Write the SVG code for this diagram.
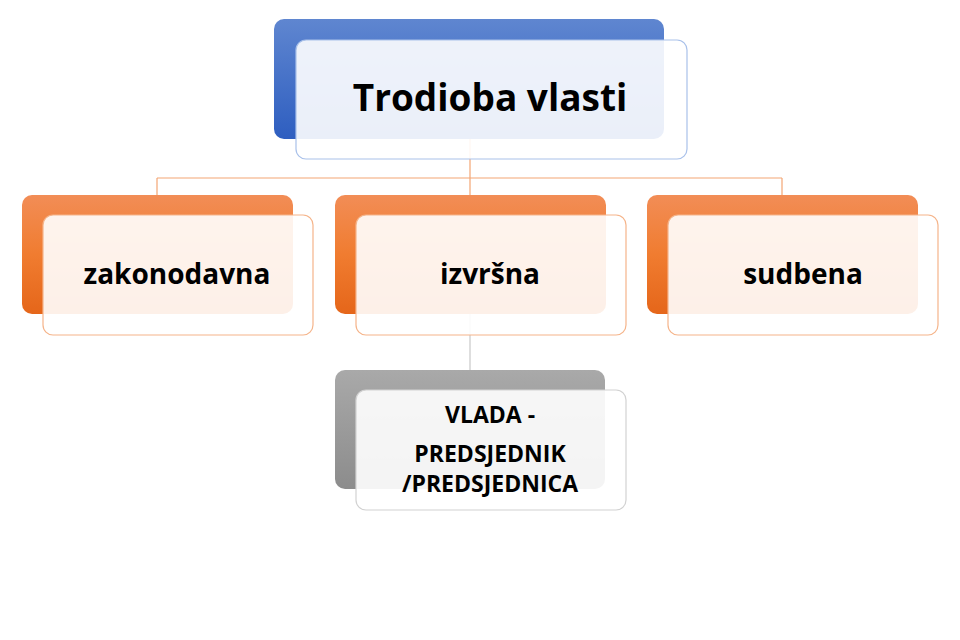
<svg xmlns="http://www.w3.org/2000/svg" width="960" height="640" viewBox="0 0 960 640">
<defs>
<linearGradient id="gBlue" x1="0" y1="0" x2="0" y2="1"><stop offset="0" stop-color="#5f86d0"/><stop offset="1" stop-color="#2e5ec0"/></linearGradient>
<linearGradient id="gOrange" x1="0" y1="0" x2="0" y2="1"><stop offset="0" stop-color="#f28d56"/><stop offset="0.5" stop-color="#f07c30"/><stop offset="1" stop-color="#e5661a"/></linearGradient>
<linearGradient id="gGray" x1="0" y1="0" x2="0" y2="1"><stop offset="0" stop-color="#a9a9a9"/><stop offset="1" stop-color="#8c8c8c"/></linearGradient>
</defs>
<style>
.front{fill:#ffffff;fill-opacity:0.9;stroke-width:1.2}
.fb{stroke:#a9c1ea}
.fo{stroke:#f5b48a}
.fg{stroke:#d2d2d2}
.t{font-family:"Open Sans","Noto Sans","DejaVu Sans",sans-serif;font-weight:bold;fill:#000;text-anchor:middle}
.conn{fill:none;stroke-width:1.2}
</style>
<rect width="960" height="640" fill="#ffffff"/>
<g id="connectors">
<path class="conn" stroke="#f4a674" d="M470 100 V178 M157 178 H782 M157 178 V300 M470 178 V300 M782 178 V300"/>
<path class="conn" stroke="#c8c8c8" d="M470 300 V420"/>
</g>
<g id="node-root">
<rect x="274" y="19" width="390" height="120" rx="10" fill="url(#gBlue)"/>
<rect class="front fb" x="296" y="40" width="391" height="119" rx="10"/>
<text class="t" x="490" y="111" font-size="37">Trodioba vlasti</text>
</g>
<g id="node-zakonodavna">
<rect x="22" y="195" width="271" height="119" rx="10" fill="url(#gOrange)"/>
<rect class="front fo" x="43" y="215" width="270" height="120" rx="10"/>
<text class="t" x="177" y="284" font-size="28">zakonodavna</text>
</g>
<g id="node-izvrsna">
<rect x="335" y="195" width="271" height="119" rx="10" fill="url(#gOrange)"/>
<rect class="front fo" x="356" y="215" width="270" height="120" rx="10"/>
<text class="t" x="490" y="284" font-size="28">izvršna</text>
</g>
<g id="node-sudbena">
<rect x="647" y="195" width="271" height="119" rx="10" fill="url(#gOrange)"/>
<rect class="front fo" x="668" y="215" width="270" height="120" rx="10"/>
<text class="t" x="803" y="284" font-size="28">sudbena</text>
</g>
<g id="node-vlada">
<rect x="335" y="370" width="270" height="119" rx="10" fill="url(#gGray)"/>
<rect class="front fg" x="356" y="390" width="270" height="120" rx="10"/>
<text class="t" x="490" y="423" font-size="23">VLADA -</text>
<text class="t" x="490" y="462" font-size="23">PREDSJEDNIK</text>
<text class="t" x="490" y="492" font-size="23">/PREDSJEDNICA</text>
</g>
</svg>
